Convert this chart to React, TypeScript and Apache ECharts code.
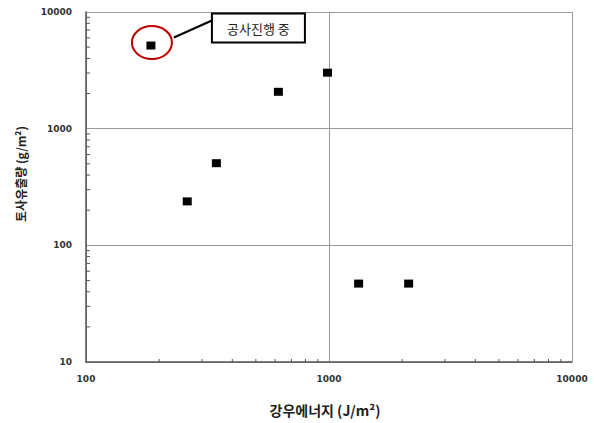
import React, { useEffect, useRef } from "react";
import * as echarts from "echarts";

const rainEnergy = [185, 261, 344, 619, 986, 1324, 2127];
const sedimentYield = [5160, 238, 506, 2070, 3020, 47, 47];
const xMinorTicks = [200, 300, 400, 500, 600, 700, 800, 900, 2000, 3000, 4000, 5000, 6000, 7000, 8000, 9000];
const yMinorTicks = [20, 30, 40, 50, 60, 70, 80, 90, 200, 300, 400, 500, 600, 700, 800, 900, 2000, 3000, 4000, 5000, 6000, 7000, 8000, 9000];
const annotationIndex = 0;
const annotationText = "공사진행 중";
const xName = "강우에너지 (J/m²)";
const yName = "토사유출량 (g/m²)";

export default function App() {
  const ref = useRef<HTMLDivElement>(null);
  useEffect(() => {
    if (!ref.current) return;
    const chart = echarts.init(ref.current, null, { renderer: "svg" });
    const tickData: any[] = [
      ...xMinorTicks.map((v) => [v, 10, 0]),
      ...yMinorTicks.map((v) => [100, v, 1]),
    ];
    const labelStyle = {
      fontFamily: "DejaVu Sans",
      fontSize: 9,
      color: "#333",
      fontWeight: "bold" as const,
      formatter: (v: number) => String(Math.round(v)),
    };
    chart.setOption({
      animation: false,
      backgroundColor: "#fff",
      grid: { left: 86, right: 22, top: 12, bottom: 61, containLabel: false },
      xAxis: {
        type: "log",
        logBase: 10,
        min: 100,
        max: 10000,
        name: xName,
        nameLocation: "middle",
        nameGap: 41,
        nameTextStyle: { fontFamily: "Noto Sans CJK KR", fontSize: 14, fontWeight: "bold", color: "#222", padding: [0, 8, 0, 0] },
        axisLine: { show: true, lineStyle: { color: "#555", width: 1.5 } },
        axisTick: { show: false },
        axisLabel: { ...labelStyle, margin: 12 },
        splitLine: { show: true, lineStyle: { color: "#999", width: 1 } },
      },
      yAxis: {
        type: "log",
        logBase: 10,
        min: 10,
        max: 10000,
        name: yName,
        nameLocation: "middle",
        nameGap: 60,
        nameRotate: 90,
        nameTextStyle: { fontFamily: "Noto Sans CJK KR", fontSize: 12, fontWeight: "bold", color: "#222", padding: [0, 0, 0, 26] },
        axisLine: { show: true, lineStyle: { color: "#555", width: 1.5 } },
        axisTick: { show: false },
        axisLabel: { ...labelStyle, margin: 14 },
        splitLine: { show: true, lineStyle: { color: "#999", width: 1 } },
      },
      series: [
        {
          type: "scatter",
          data: rainEnergy.map((x, i) => [x, sedimentYield[i]]),
          symbol: "rect",
          symbolSize: [9, 8],
          itemStyle: { color: "#000", opacity: 1 },
          z: 5,
        },
        {
          type: "custom",
          data: tickData,
          clip: false,
          silent: true,
          renderItem: (params: any, api: any) => {
            const p = api.coord([api.value(0), api.value(1)]);
            const kind = api.value(2);
            const shape =
              kind === 0
                ? { x1: p[0], y1: p[1], x2: p[0], y2: p[1] - 3 }
                : { x1: p[0], y1: p[1], x2: p[0] + 4, y2: p[1] };
            return { type: "line", shape, style: { stroke: "#555", lineWidth: 1 } };
          },
          z: 4,
        },
      ],
    });
    const p = chart.convertToPixel({ seriesIndex: 0 }, [rainEnergy[annotationIndex], sedimentYield[annotationIndex]]) as number[];
    const bx = p[0] + 61;
    const by = p[1] - 32;
    chart.setOption({
      graphic: [
        {
          type: "ellipse",
          shape: { cx: p[0] + 1, cy: p[1] - 3, rx: 20, ry: 16.5 },
          style: { fill: "none", stroke: "#c00000", lineWidth: 2 },
          z: 10,
        },
        {
          type: "line",
          shape: { x1: p[0] + 23, y1: p[1] - 8, x2: bx, y2: by + 7 },
          style: { stroke: "#000", lineWidth: 2 },
          z: 10,
        },
        {
          type: "rect",
          shape: { x: bx, y: by, width: 93, height: 29 },
          style: { fill: "#fff", stroke: "#000", lineWidth: 2 },
          z: 10,
        },
        {
          type: "text",
          x: bx + 46.5,
          y: by + 15,
          style: {
            text: annotationText,
            fontFamily: "Noto Sans CJK KR",
            fontSize: 13,
            fill: "#222",
            align: "center",
            verticalAlign: "middle",
          },
          z: 11,
        },
      ],
    });
    return () => chart.dispose();
  }, []);
  return (
    <div
      ref={ref}
      style={{ position: "absolute", left: 0, top: 0, width: 594, height: 423, background: "#fff" }}
    />
  );
}
